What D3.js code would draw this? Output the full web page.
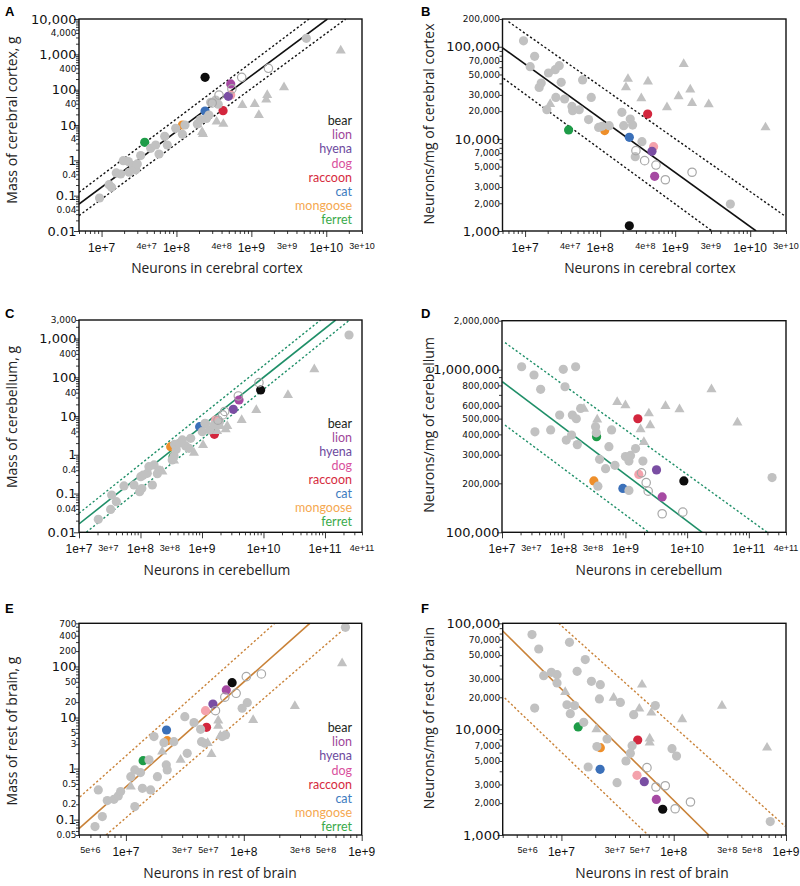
<!DOCTYPE html>
<html><head><meta charset="utf-8">
<script src="https://cdn.jsdelivr.net/npm/d3@7"></script>
<style>body{margin:0;background:#fff}svg{display:block}</style>
</head><body><svg id="chart" width="800" height="886"></svg>
<script>
// ---------- DATA ----------
const legendSpecies = ["bear","lion","hyena","dog","raccoon","cat","mongoose","ferret"];
const legendColors  = ["#231f20","#a0479a","#6d4a9e","#d9529d","#d62b3e","#3d7cc0","#f5a850","#3aaa49"];
// coloured points order: ferret, mongoose, cat, raccoon, dog, hyena, lion, bear
const pointSpecies = ["ferret","mongoose","cat","raccoon","dog","hyena","lion","bear"];
const pointColors  = ["#1e9c48","#ee8f2b","#3b70b9","#d3263d","#f4a2ac","#7a4ea3","#a64aa3","#0d0d0d"];

// Panel A: cortex neurons vs cortex mass (g)
const aGrey = [[9.4e6,0.086],[1.26e7,0.205],[1.36e7,0.172],[1.57e7,0.44],[1.8e7,0.41],[1.95e7,0.98],[2.28e7,0.92],[2.33e7,0.46],[2.66e7,0.71],[2.86e7,0.54],[3.0e7,0.79],[3.33e7,1.36],[4.53e7,2.19],[5.28e7,2.72],[5.85e7,1.51],[6.97e7,4.78],[7.55e7,2.72],[9.77e7,8.05],[1.2e8,5.45],[1.3e8,10],[1.9e8,10.7],[2.1e8,14.2],[2.52e8,15.4],[2.71e8,19.2],[2.86e8,43.9],[3.34e8,51],[3.61e8,38.7],[5.42e9,2840]];
const aOpen = [[3.0e8,42],[3.7e8,70],[5.5e8,105],[7.43e8,223],[1.69e9,402]];
const aTri = [[1.56e10,1270],[2.73e9,116],[1.63e9,70.7],[1.58e9,52],[1.11e9,39.3],[7.58e8,36.8],[1.26e9,19.2],[3.44e8,12.4],[4.23e8,10.7],[2.26e8,5.56],[2.2e8,6.3],[2.2e7,0.9]];
const aColored = [[3.77e7,3.23],[1.2e8,10],[2.41e8,24.9],[4.19e8,25.5],[5.3e8,70.7],[4.93e8,64.7],[5.3e8,145],[2.41e8,223]];
const aFit = [[5e6,0.0581],[1.035e10,10000]];
const aUpper = [[5e6,0.124],[5.89e9,10000]];
const aLower = [[5e6,0.0272],[1.82e10,10000]];

// Panel B: cortex neurons vs neurons/mg
const bGrey = [[9.53e6,116000],[1.34e7,78700],[1.17e7,60800],[2.05e7,51900],[2.52e7,56400],[2.85e7,62300],[1.64e7,40400],[1.54e7,36200],[3.03e7,41100],[5.84e7,43600],[2.57e7,28200],[3.36e7,27100],[1.95e7,20700],[4.21e7,22500],[4.3e7,20200],[5.27e7,20700],[7.62e7,28200],[7.02e7,16200],[9.55e7,13300],[1.06e8,13700],[1.32e8,13900],[1.95e8,19400],[2.52e8,16400],[2.06e8,13900],[2.71e8,14100],[3.61e8,9330],[2.94e8,6410],[5.44e9,1960]];
const bOpen = [[3.0e8,7450],[3.92e8,5800],[5.55e8,5200],[7.4e8,3600],[1.68e9,4340]];
const bTri = [[1.3e9,65000],[2.35e8,44700],[2.21e8,36200],[4.34e8,41800],[3.54e8,27500],[1.59e9,34200],[1.11e9,29000],[1.68e9,24500],[2.8e9,23700],[7.78e8,22000],[1.6e10,13300],[2.16e7,23900]];
const bColored = [[3.8e7,12500],[1.15e8,12300],[2.45e8,10400],[4.3e8,18600],[5.16e8,8230],[4.91e8,7330],[5.33e8,3920],[2.45e8,1140]];
const bFit = [[4.9e6,98600],[1.2e10,1000]];
const bUpper = [[6.01e6,187000],[2.95e10,1442]];
const bLower = [[5.15e6,45400],[3.1e9,1000]];

// Panel C: cerebellum neurons vs mass
const cGrey = [[2.46e11,1230],[2.06e7,0.0216],[3.27e7,0.039],[4.05e7,0.0618],[3.4e7,0.0918],[5.39e7,0.157],[7.84e7,0.166],[9.69e7,0.112],[1.01e8,0.273],[1.29e8,0.333],[1.56e8,0.166],[1.66e8,0.546],[1.37e8,0.494],[2.0e8,0.405],[1.05e8,0.134],[1.88e8,0.325],[1.1e8,0.298],[3.28e8,0.735],[3.81e8,1.36],[3.58e8,1.86],[3.51e8,0.93],[4.23e8,1.98],[5.42e8,1.69],[6.55e8,2.66],[6.15e8,1.47],[1.01e9,3.95],[1.12e9,6.47],[1.33e9,4.36],[1.57e9,5.86],[4.79e8,2.41],[1.92e9,7.0],[1.14e9,6.3]];
const cOpen = [[1.82e9,7.8],[2.17e9,10.7],[2.34e9,13.1],[3.9e9,32.9],[8.45e9,72.5]];
const cTri = [[6.71e10,160],[2.5e10,34.8],[7.64e9,14.3],[4.42e9,7.89],[2.58e9,5.53],[2.43e9,4.54],[1.04e9,1.79],[7.41e8,1.13],[3.51e8,0.705],[2.27e8,0.367],[1.76e9,4.1],[1.99e9,5.5]];
const cColored = [[3.38e8,0.895],[3.1e8,1.62],[9.16e8,5.32],[1.59e9,3.37],[1.67e9,7.89],[3.23e9,14.9],[4.0e9,25.9],[8.99e9,46.9]];
const cFit = [[1e7,0.0164],[1.49e11,3000]];
const cUpper = [[1e7,0.0309],[8.51e10,3000]];
const cLower = [[1.315e7,0.01],[2.52e11,3000]];

// Panel D: cerebellum neurons vs neurons/mg
const dGrey = [[2.08e7,1042000],[3.3e7,927000],[9.84e7,1005000],[1.56e8,1042000],[4.23e7,757000],[1.05e8,785000],[1.88e8,578000],[8.59e7,526000],[1.38e8,526000],[1.6e8,499000],[3.42e7,415000],[6.14e7,426000],[1.1e8,369000],[1.34e8,396000],[1.66e8,346000],[3.28e8,446000],[3.37e8,409000],[5.97e8,426000],[5.4e8,336000],[3.81e8,281000],[4.77e8,246000],[6.76e8,258000],[1.0e9,292000],[1.21e9,297000],[1.14e9,274000],[1.46e9,327000],[1.92e9,274000],[3.58e8,192000],[1.14e9,181000],[2.38e11,217000]];
const dOpen = [[1.82e9,232000],[2.17e9,202000],[2.34e9,179000],[3.94e9,130000],[8.51e9,133000]];
const dTri = [[2.48e10,757000],[7.36e8,632000],[1.0e9,603000],[4.46e9,597000],[7.52e9,570000],[2.4e9,538000],[2.52e9,454000],[1.76e9,430000],[1.99e9,359000],[6.53e10,472000],[3.49e8,494000],[2.13e8,575000]];
const dColored = [[3.41e8,387000],[3.08e8,207000],[9.1e8,186000],[1.59e9,499000],[1.65e9,227000],[3.19e9,242000],[3.94e9,165000],[8.85e9,207000]];
const dFit = [[1.01e7,843000],[1.75e10,100000]];
const dUpper = [[1.12e7,1466000],[1.98e11,100000]];
const dLower = [[1.12e7,456000],[2.4e9,100000]];

// Panel E: rest-of-brain neurons vs mass
const eGrey = [[7.28e8,585],[5.47e6,0.073],[6.31e6,0.115],[6.95e6,0.236],[5.83e6,0.381],[7.92e6,0.25],[8.61e6,0.291],[9.02e6,0.354],[1.1e7,0.695],[1.19e7,0.94],[1.33e7,0.834],[1.38e7,0.411],[1.62e7,0.381],[1.19e7,0.18],[1.85e7,0.695],[2.2e7,1.18],[2.24e7,0.94],[1.57e7,1.48],[1.73e7,4.23],[2.1e7,3.22],[2.55e7,3.37],[3.16e7,10.4],[3.78e7,7.94],[4.3e7,5.88],[4.38e7,3.37],[4.68e7,3.13],[3.31e7,1.99],[6.56e7,4.23],[7.0e7,4.55],[9.68e7,15.2],[1.07e8,19.5]];
const eOpen = [[5.75e7,13.6],[6.9e7,25],[8.61e7,29.8],[1.05e8,63.2],[1.41e8,71.3]];
const eTri = [[6.82e8,115],[2.71e8,16.8],[1.2e8,8.95],[6.07e7,8.69],[6.07e7,6.84],[5.32e7,1.93],[2.91e7,1.48],[1.1e7,0.443],[2.03e7,2.15],[4.94e7,3.17],[6.32e7,4.4]];
const eColored = [[1.4e7,1.43],[2.24e7,3.52],[2.21e7,5.7],[4.83e7,6.43],[4.73e7,13.6],[5.47e7,18.4],[7.1e7,34.7],[7.96e7,48.2]];
const eFit = [[4e6,0.0667],[3.63e8,700]];
const eUpper = [[4.07e6,0.278],[1.83e8,700]];
const eLower = [[6.78e6,0.05],[7.41e8,593]];

// Panel F: rest-of-brain neurons vs neurons/mg
const fGrey = [[5.47e6,78200],[6.28e6,57200],[1.18e7,66100],[1.63e7,45400],[6.95e6,32000],[8.13e6,34400],[9.14e6,32700],[9.14e6,27300],[1.38e7,35200],[1.85e7,28300],[2.22e7,26300],[2.18e7,19300],[5.78e6,15800],[1.12e7,17000],[1.31e7,16700],[1.2e7,14000],[1.58e7,11600],[3.35e7,17900],[4.4e7,13700],[6.86e7,16700],[2.55e7,8070],[2.07e7,6840],[4.26e7,6980],[4.11e7,5910],[3.76e7,5000],[1.73e7,4390],[3.13e7,3120],[9.66e7,6540],[1.06e8,5570],[7.24e8,1340]];
const fOpen = [[5.78e7,4330],[6.95e7,2840],[8.41e7,2920],[1.03e8,1770],[1.41e8,2050]];
const fTri = [[5.22e7,26300],[2.92e7,19800],[4.94e7,15600],[6.32e7,14300],[2.69e8,16600],[1.19e8,12400],[2.05e7,9950],[1.08e7,22400],[6.11e7,8130],[6.11e7,7450],[6.78e8,6680]];
const fColored = [[1.41e7,10500],[2.22e7,6680],[2.21e7,4170],[4.78e7,7900],[4.71e7,3660],[5.47e7,3190],[7.0e7,2170],[7.98e7,1750]];
const fFit = [[2.96e6,85900],[2.05e8,1000]];
const fUpper = [[9.46e6,100000],[9.86e8,1208]];
const fLower = [[3.13e6,19700],[5.9e7,1000]];

// Axis domains and tick labels
const xDomainAB = [5e6, 3e10], xBigAB = [1e7,1e8,1e9,1e10], xSmallAB = [4e7,4e8,3e9,3e10];
const xDomainCD = [1e7, 4e11], xBigCD = [1e7,1e8,1e9,1e10,1e11], xSmallCD = [3e7,3e8,4e11];
const xDomainE = [4e6, 1e9], xDomainF = [3e6, 1e9], xBigEF = [1e7,1e8,1e9], xSmallEF = [5e6,3e7,5e7,3e8,5e8];
const yDomainA = [0.01, 10000], yBigA = [0.01,0.1,1,10,100,1000,10000], ySmallA = [0.04,0.4,4,40,400,4000];
const yDomainB = [1000, 200000], yBigB = [1000,10000,100000], ySmallB = [2000,3000,5000,7000,20000,30000,50000,70000,200000];
const yDomainC = [0.01, 3000], yBigC = [0.01,0.1,1,10,100,1000], ySmallC = [0.04,0.4,4,40,400,3000];
const yDomainD = [100000, 2000000], yBigD = [100000,1000000], ySmallD = [200000,300000,400000,500000,600000,800000,2000000];
const yDomainE = [0.05, 700], yBigE = [0.1,1,10,100], ySmallE = [0.05,0.2,0.5,3,5,20,50,200,400,700];
const yDomainF = [1000, 100000], yBigF = [1000,10000,100000], ySmallF = [2000,3000,5000,7000,20000,30000,50000,70000];

// ---------- DRAW ----------
const svg = d3.select("#chart");
const XTICKFONT = "'Liberation Sans', Arial, Helvetica, sans-serif";
const YTICKFONT = "'DejaVu Sans', Verdana, sans-serif";
const TITLEFONT = "'Open Sans', Lato, sans-serif";
const LEGENDFONT = "Lato, 'Open Sans', sans-serif";
const fmtY = d3.format(",");
const fmtX = d3.format(".0e");

function logTicks(dom){
  const out=[]; const lo=Math.floor(Math.log10(dom[0])), hi=Math.ceil(Math.log10(dom[1]));
  for(let e=lo;e<=hi;e++) for(let k=1;k<10;k++){const v=k*Math.pow(10,e); if(v>=dom[0]*0.999 && v<=dom[1]*1.001) out.push(v);}
  return out;
}
const isDecade = v => Math.abs(Math.log10(v)-Math.round(Math.log10(v)))<1e-6;

function drawPanel(L, P){
  const x = d3.scaleLog().domain(P.xDomain).range([L.x0, L.x1]);
  const y = d3.scaleLog().domain(P.yDomain).range([L.y1, L.y0]);
  const g = svg.append("g");
  const clipId = "clip"+L.letter;
  svg.append("clipPath").attr("id",clipId).append("rect")
    .attr("x",L.x0).attr("y",L.y0).attr("width",L.x1-L.x0).attr("height",L.y1-L.y0);

  // ticks
  const xt = logTicks(P.xDomain), yt = logTicks(P.yDomain);
  g.append("g").attr("transform",`translate(0,${L.y1})`)
    .call(d3.axisBottom(x).tickValues(xt.filter(v=>!isDecade(v))).tickSize(3).tickFormat(""))
    .call(s=>s.select(".domain").remove());
  g.append("g").attr("transform",`translate(0,${L.y1})`)
    .call(d3.axisBottom(x).tickValues(xt.filter(isDecade)).tickSize(6).tickFormat(""))
    .call(s=>s.select(".domain").remove());
  g.append("g").attr("transform",`translate(${L.x0},0)`)
    .call(d3.axisLeft(y).tickValues(yt.filter(v=>!isDecade(v))).tickSize(3).tickFormat(""))
    .call(s=>s.select(".domain").remove());
  g.append("g").attr("transform",`translate(${L.x0},0)`)
    .call(d3.axisLeft(y).tickValues(yt.filter(isDecade)).tickSize(5).tickFormat(""))
    .call(s=>s.select(".domain").remove());
  g.selectAll(".tick line").attr("stroke","#222").attr("stroke-width",0.9);

  // tick labels
  const tl = g.append("g").attr("fill","#111");
  P.xBig.forEach(v=>tl.append("text").attr("font-family",XTICKFONT).attr("x",x(v)).attr("y",L.y1+20.6).attr("text-anchor","middle").attr("font-size",12).text(fmtX(v)));
  P.xSmall.forEach(v=>tl.append("text").attr("font-family",XTICKFONT).attr("x",x(v)).attr("y",L.y1+18.4).attr("text-anchor","middle").attr("font-size",9).text(fmtX(v)));
  P.yBig.forEach(v=>tl.append("text").attr("font-family",YTICKFONT).attr("x",L.x0-2.5).attr("y",y(v)).attr("dy","0.36em").attr("text-anchor","end").attr("font-size",13).text(fmtY(v)));
  P.ySmall.forEach(v=>tl.append("text").attr("font-family",YTICKFONT).attr("x",L.x0-2.5).attr("y",y(v)).attr("dy","0.36em").attr("text-anchor","end").attr("font-size",9).text(fmtY(v)));

  // fit lines
  const line = d3.line().x(d=>x(d[0])).y(d=>y(d[1]));
  const lg = g.append("g").attr("clip-path",`url(#${clipId})`).attr("fill","none").attr("stroke",P.lineColor);
  lg.append("path").attr("d",line(P.fit)).attr("stroke-width",1.6);
  lg.append("path").attr("d",line(P.upper)).attr("stroke-width",1.4).attr("stroke-dasharray","2.2,2.2");
  lg.append("path").attr("d",line(P.lower)).attr("stroke-width",1.4).attr("stroke-dasharray","2.2,2.2");

  // points
  const pg = g.append("g").attr("clip-path",`url(#${clipId})`);
  pg.selectAll(".col").data(P.colored).join("circle")
    .attr("cx",d=>x(d[0])).attr("cy",d=>y(d[1])).attr("r",4.6)
    .attr("fill",(d,i)=>pointColors[i]);
  pg.selectAll(".grey").data(P.grey).join("circle").attr("class","grey")
    .attr("cx",d=>x(d[0])).attr("cy",d=>y(d[1])).attr("r",4.6).attr("fill","#c1c1c1");
  const tri = d3.symbol(d3.symbolTriangle, 44);
  pg.selectAll(".tri").data(P.tri).join("path").attr("class","tri")
    .attr("transform",d=>`translate(${x(d[0])},${y(d[1])})`).attr("d",tri).attr("fill","#c1c1c1");
  pg.selectAll(".open").data(P.open).join("circle").attr("class","open")
    .attr("cx",d=>x(d[0])).attr("cy",d=>y(d[1])).attr("r",4.2)
    .attr("fill","none").attr("stroke","#a8a8a8").attr("stroke-width",1.2);

  // frame
  g.append("rect").attr("x",L.x0).attr("y",L.y0).attr("width",L.x1-L.x0).attr("height",L.y1-L.y0)
    .attr("fill","none").attr("stroke","#111").attr("stroke-width",1.4);

  // titles
  g.append("text").attr("x",L.xtx).attr("y",L.xty).attr("text-anchor","middle")
    .attr("font-family",TITLEFONT).attr("font-size",13.8).attr("fill","#222").text(P.xTitle);
  g.append("text").attr("transform",`translate(${L.ytx},${L.yty}) rotate(-90)`).attr("dy","0.35em")
    .attr("text-anchor","middle").attr("font-family",TITLEFONT).attr("font-size",14).attr("fill","#222").text(P.yTitle);
  g.append("text").attr("x",L.lx).attr("y",L.ly).attr("font-family","Arial, 'Liberation Sans', sans-serif")
    .attr("font-weight","bold").attr("font-size",13).text(L.letter);

  // legend
  if(L.legend){
    legendSpecies.forEach((s,i)=>{
      g.append("text").attr("x",L.legend.x).attr("y",L.legend.y+i*L.legend.dy).attr("dy","0.35em")
        .attr("text-anchor","end").attr("font-family",LEGENDFONT).attr("font-size",12.5)
        .attr("fill",legendColors[i]).text(s);
    });
  }
}

drawPanel({letter:"A",x0:79,x1:362,y0:19,y1:231,lx:5,ly:16,xtx:217,xty:273,ytx:12,yty:120,legend:{x:352,y:120.7,dy:14.15}},
  {xDomain:xDomainAB,yDomain:yDomainA,grey:aGrey,open:aOpen,tri:aTri,colored:aColored,fit:aFit,upper:aUpper,lower:aLower,lineColor:"#111",
   xBig:xBigAB,xSmall:xSmallAB,yBig:yBigA,ySmall:ySmallA,xTitle:"Neurons in cerebral cortex",yTitle:"Mass of cerebral cortex, g"});
drawPanel({letter:"B",x0:502.5,x1:786,y0:19,y1:231,lx:421,ly:16,xtx:650,xty:273,ytx:429,yty:124,legend:null},
  {xDomain:xDomainAB,yDomain:yDomainB,grey:bGrey,open:bOpen,tri:bTri,colored:bColored,fit:bFit,upper:bUpper,lower:bLower,lineColor:"#111",
   xBig:xBigAB,xSmall:xSmallAB,yBig:yBigB,ySmall:ySmallB,xTitle:"Neurons in cerebral cortex",yTitle:"Neurons/mg of cerebral cortex"});
drawPanel({letter:"C",x0:79,x1:362,y0:320,y1:532.3,lx:5,ly:318,xtx:217,xty:575,ytx:12,yty:417,legend:{x:352,y:423.3,dy:14.05}},
  {xDomain:xDomainCD,yDomain:yDomainC,grey:cGrey,open:cOpen,tri:cTri,colored:cColored,fit:cFit,upper:cUpper,lower:cLower,lineColor:"#1f8f68",
   xBig:xBigCD,xSmall:xSmallCD,yBig:yBigC,ySmall:ySmallC,xTitle:"Neurons in cerebellum",yTitle:"Mass of cerebellum, g"});
drawPanel({letter:"D",x0:502,x1:786,y0:320.7,y1:532.3,lx:421,ly:318,xtx:649,xty:575,ytx:429,yty:425,legend:null},
  {xDomain:xDomainCD,yDomain:yDomainD,grey:dGrey,open:dOpen,tri:dTri,colored:dColored,fit:dFit,upper:dUpper,lower:dLower,lineColor:"#1f8f68",
   xBig:xBigCD,xSmall:xSmallCD,yBig:yBigD,ySmall:ySmallD,xTitle:"Neurons in cerebellum",yTitle:"Neurons/mg of cerebellum"});
drawPanel({letter:"E",x0:79,x1:361.7,y0:623.3,y1:835,lx:5,ly:613,xtx:220,xty:878,ytx:12,yty:731,legend:{x:352,y:728,dy:14.05}},
  {xDomain:xDomainE,yDomain:yDomainE,grey:eGrey,open:eOpen,tri:eTri,colored:eColored,fit:eFit,upper:eUpper,lower:eLower,lineColor:"#c98238",
   xBig:xBigEF,xSmall:xSmallEF,yBig:yBigE,ySmall:ySmallE,xTitle:"Neurons in rest of brain",yTitle:"Mass of rest of brain, g"});
drawPanel({letter:"F",x0:502.7,x1:786,y0:623.3,y1:835,lx:421,ly:613,xtx:652,xty:878,ytx:429,yty:718,legend:null},
  {xDomain:xDomainF,yDomain:yDomainF,grey:fGrey,open:fOpen,tri:fTri,colored:fColored,fit:fFit,upper:fUpper,lower:fLower,lineColor:"#c98238",
   xBig:xBigEF,xSmall:xSmallEF,yBig:yBigF,ySmall:ySmallF,xTitle:"Neurons in rest of brain",yTitle:"Neurons/mg of rest of brain"});
</script>
</body></html>
